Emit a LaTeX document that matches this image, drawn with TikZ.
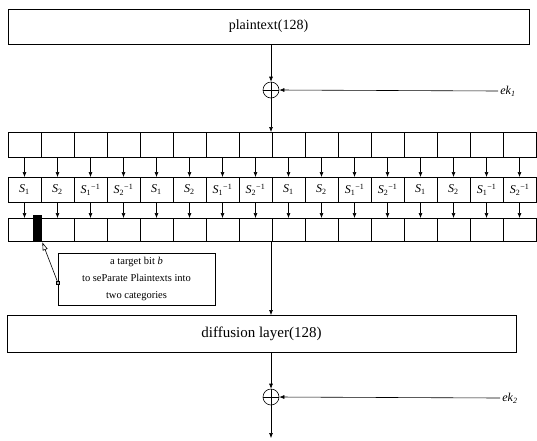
\documentclass[tikz,border=0pt]{standalone}
\usepackage{fontspec}
\setmainfont{Liberation Serif}
\usetikzlibrary{arrows.meta}
\newcommand{\SBx}[2]{\textit{S}\textsubscript{#1}\textsuperscript{#2}}
\begin{document}
\begin{tikzpicture}[x=1pt,y=-1pt,line width=0.6pt,
  arr/.style={-{Latex[length=5pt,width=4pt]}},
  cellbox/.style={draw,minimum width=33pt,inner sep=0pt,outer sep=0pt},
  xorop/.style={circle,draw,minimum size=16pt,inner sep=0pt},
  eklab/.style={anchor=west,inner sep=2pt,font=\fontsize{12}{14}\selectfont},
  bigbox/.style={draw,inner sep=0pt,outer sep=0pt}]
\useasboundingbox (0,0) rectangle (537,440);

% plaintext
\node[bigbox,minimum width=521pt,minimum height=35pt,font=\fontsize{14}{16}\selectfont] (pt) at (268.5,26.5) {plaintext(128)};

% first xor
\node[xorop] (x1) at (271,90) {};
\draw (x1.north) -- (x1.south) (x1.west) -- (x1.east);
\node[eklab] (ek1) at (498,91) {\textit{ek}\textsubscript{\textit{1}}};
\draw[arr] (ek1.west) -- (x1.east);
\draw[arr] (x1 |- pt.south) -- (x1.north);

% rows of cells
\foreach \i in {0,...,15}{
  \pgfmathsetmacro{\cx}{24.5+33*\i}
  \node[cellbox,minimum height=25pt] (ra\i) at (\cx,144.5) {};
  \node[cellbox,minimum height=23pt] (rc\i) at (\cx,229.5) {};
}
\foreach \i/\a/\b in {0/1/,1/2/,2/1/\char"2212 1,3/2/\char"2212 1,4/1/,5/2/,6/1/\char"2212 1,7/2/\char"2212 1,8/1/,9/2/,10/1/\char"2212 1,11/2/\char"2212 1,12/1/,13/2/,14/1/\char"2212 1,15/2/\char"2212 1}{
  \pgfmathsetmacro{\cx}{24.5+33*\i}
  \node[cellbox,minimum height=25pt,font=\fontsize{12}{14}\selectfont] (rb\i) at (\cx,189.5) {\SBx{\a}{\b}};
  \draw[arr] (ra\i.south) -- (rb\i.north);
  \draw[arr] (rb\i.south) -- (rc\i.north);
}
\draw[arr] (x1.south) -- (x1 |- ra0.north);

% target bit
\node[fill=black,minimum width=9pt,minimum height=27pt,inner sep=0pt] (bar) at (37.5,228.5) {};
\node[bigbox,minimum width=157pt,minimum height=52pt,align=center,font=\fontsize{10.5}{17}\selectfont] (call) at (136.5,279) {a target bit \textit{b}\\to seParate Plaintexts into\\two categories};
\node[draw,fill=gray!60,minimum size=3.5pt,inner sep=0pt] (sq) at (58,283) {};
\draw[-{Triangle[open,length=8pt,width=5pt]}] (sq) -- (bar.south east);

% diffusion layer
\node[bigbox,minimum width=509pt,minimum height=37pt,font=\fontsize{15}{17}\selectfont] (dl) at (261.5,333.5) {diffusion layer(128)};
\draw[arr] (x1 |- rc0.south) -- (x1 |- dl.north);

% second xor
\node[xorop] (x2) at (271,397) {};
\draw (x2.north) -- (x2.south) (x2.west) -- (x2.east);
\node[eklab] (ek2) at (500,398) {\textit{ek}\textsubscript{\textit{2}}};
\draw[arr] (ek2.west) -- (x2.east);
\draw[arr] (x2 |- dl.south) -- (x2.north);
\coordinate (out) at (271,438);
\draw[arr] (x2.south) -- (out);
\end{tikzpicture}
\end{document}
